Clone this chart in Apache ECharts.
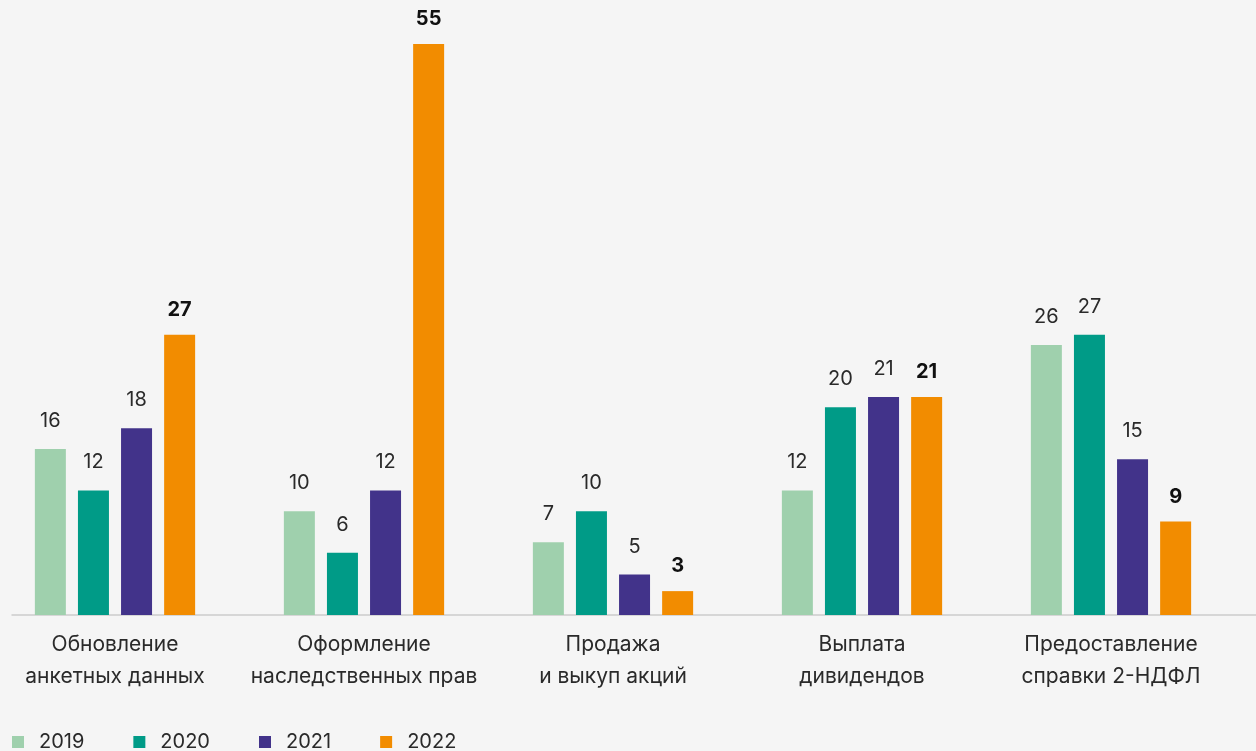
<!DOCTYPE html>
<html>
<head>
<meta charset="utf-8">
<script src="https://cdn.jsdelivr.net/npm/echarts@6/dist/echarts.min.js"></script>
<style>
  html, body { margin: 0; padding: 0; background: #f5f5f5; }
  #chart { width: 1256px; height: 751px; }
</style>
</head>
<body>
<div id="chart"></div>
<script>
const categories = [
  'Обновление\nанкетных данных',
  'Оформление\nнаследственных прав',
  'Продажа\nи выкуп акций',
  'Выплата\nдивидендов',
  'Предоставление\nсправки 2-НДФЛ'
];
const years = ['2019', '2020', '2021', '2022'];
// printed values
const values2019 = [16, 10, 7, 12, 26];
const values2020 = [12, 6, 10, 20, 27];
const values2021 = [18, 12, 5, 21, 15];
const values2022 = [27, 55, 3, 21, 9];
// bar heights as drawn in the picture (the small 2021/2022 bars of the 3rd group are shorter than their labels)
const drawn2021 = [18, 12, 3.9, 21, 15];
const drawn2022 = [27, 55, 2.3, 21, 9];

const colors = ['#9fd0ad', '#009b87', '#42338a', '#f28c00'];
const FONT = 'Inter, "Noto Sans", sans-serif';

const chart = echarts.init(document.getElementById('chart'));

const makeSeries = (name, drawn, printed, idx, bold) => ({
  name,
  type: 'bar',
  data: drawn,
  xAxisIndex: 0,
  yAxisIndex: 0,
  barWidth: 31,
  barGap: '39%',
  itemStyle: { color: colors[idx] },
  label: {
    show: true,
    position: 'top',
    distance: bold ? 15 : 18,
    fontFamily: FONT,
    fontSize: 20,
    fontWeight: bold ? 'bold' : 'normal',
    color: bold ? '#111' : '#2a2a2a',
    formatter: p => String(printed[p.dataIndex])
  }
});

chart.setOption({
  backgroundColor: '#f5f5f5',
  animation: false,
  color: colors,
  textStyle: { fontFamily: FONT },
  grid: [
    // bars are laid out in this grid (it starts a little off-canvas)
    { left: -9.5, width: 1245, top: 44, bottom: 136, outerBoundsMode: 'none' },
    // only draws the baseline, which starts a bit further right
    { left: 12, right: 0, top: 44, bottom: 136, outerBoundsMode: 'none' }
  ],
  legend: {
    data: years,
    left: 12,
    top: 732,
    padding: 0,
    icon: 'rect',
    itemWidth: 12,
    itemHeight: 12,
    itemGap: 49,
    textStyle: { fontSize: 20, color: '#2a2a2a', padding: [0, 0, 0, 10], lineHeight: 20 }
  },
  xAxis: [
    {
      type: 'category',
      gridIndex: 0,
      data: categories,
      axisLine: { show: false },
      axisTick: { show: false },
      axisLabel: {
        fontSize: 21,
        lineHeight: 32,
        color: '#2a2a2a',
        margin: 14,
        interval: 0
      }
    },
    {
      type: 'category',
      gridIndex: 1,
      data: categories,
      axisLine: { show: true, lineStyle: { color: '#cccccc', width: 1.5 } },
      axisTick: { show: false },
      axisLabel: { show: false }
    }
  ],
  yAxis: [
    { type: 'value', gridIndex: 0, min: 0, max: 55, show: false },
    { type: 'value', gridIndex: 1, min: 0, max: 55, show: false }
  ],
  series: [
    makeSeries(years[0], values2019, values2019, 0, false),
    makeSeries(years[1], values2020, values2020, 1, false),
    makeSeries(years[2], drawn2021, values2021, 2, false),
    makeSeries(years[3], drawn2022, values2022, 3, true)
  ]
});
</script>
</body>
</html>
